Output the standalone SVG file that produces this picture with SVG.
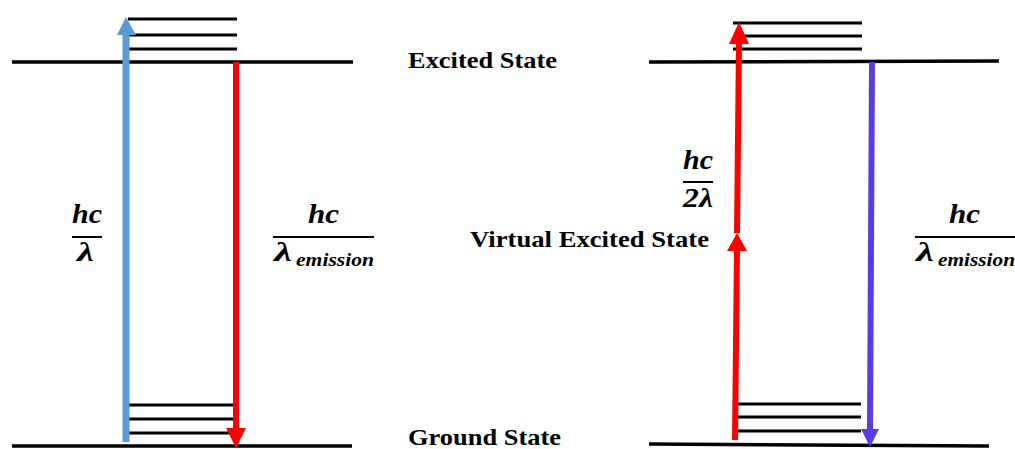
<svg xmlns="http://www.w3.org/2000/svg" width="1015" height="449" viewBox="0 0 1015 449">
<style>
.lvl{stroke:#000;stroke-width:3.5;fill:none}
.sub{stroke:#000;stroke-width:3;fill:none}
.lbl{font-family:"Liberation Serif","Times New Roman",Tinos,serif;font-weight:bold;font-size:23px;fill:#000}
.m{font-family:"Liberation Serif","Times New Roman",Tinos,serif;font-weight:bold;font-style:italic;font-size:27px;fill:#000}
.ms{font-family:"Liberation Serif","Times New Roman",Tinos,serif;font-weight:bold;font-style:italic;font-size:18px;fill:#000}
.bar{stroke:#000;stroke-width:2}
</style>
<rect width="1015" height="449" fill="#fff"/>
<g id="left-levels">
<line class="lvl" x1="12" y1="62" x2="353" y2="62"/>
<line class="lvl" x1="12" y1="446" x2="352" y2="446"/>
<line class="sub" x1="128" y1="19" x2="237" y2="19"/>
<line class="sub" x1="128" y1="35" x2="237" y2="35"/>
<line class="sub" x1="128" y1="49" x2="237" y2="49"/>
<line class="sub" x1="128" y1="405" x2="233" y2="405"/>
<line class="sub" x1="128" y1="419" x2="233" y2="419"/>
<line class="sub" x1="128" y1="433" x2="233" y2="433"/>
</g>
<g id="right-levels">
<line class="lvl" x1="649" y1="62" x2="999" y2="61"/>
<line class="lvl" x1="649" y1="444" x2="989" y2="446"/>
<line class="sub" x1="733" y1="23" x2="862" y2="23"/>
<line class="sub" x1="738" y1="36" x2="862" y2="36"/>
<line class="sub" x1="733" y1="49" x2="862" y2="49"/>
<line class="sub" x1="733" y1="404" x2="861" y2="404"/>
<line class="sub" x1="733" y1="417" x2="861" y2="417"/>
<line class="sub" x1="733" y1="431" x2="861" y2="431"/>
</g>
<g id="connectors">
<line x1="126" y1="442" x2="126" y2="34" stroke="#5B9BD5" stroke-width="7"/>
<polygon points="126,17 117,35 136,35" fill="#5B9BD5"/>
<line x1="236" y1="62" x2="236" y2="430" stroke="#FF0000" stroke-width="6"/>
<polygon points="236,448 226,428 246,428" fill="#FF0000"/>
<line x1="735" y1="440" x2="737" y2="249" stroke="#FF0000" stroke-width="6"/>
<polygon points="737,233 727,251 747,251" fill="#FF0000"/>
<line x1="737" y1="233" x2="739" y2="42" stroke="#FF0000" stroke-width="6"/>
<polygon points="739,22 729,44 749,44" fill="#FF0000"/>
<line x1="872" y1="62" x2="870" y2="431" stroke="#5A3CE6" stroke-width="6"/>
<polygon points="870,447 861,429 879,429" fill="#5A3CE6"/>
</g>
<g id="label-excited">
<text class="lbl" x="408" y="68" textLength="149" lengthAdjust="spacingAndGlyphs">Excited State</text>
</g>
<g id="label-ground">
<text class="lbl" x="408" y="445" textLength="153" lengthAdjust="spacingAndGlyphs">Ground State</text>
</g>
<g id="label-virtual">
<text class="lbl" x="470" y="247" textLength="239" lengthAdjust="spacingAndGlyphs">Virtual Excited State</text>
</g>
<g id="frac-left">
<text class="m" x="72" y="223" textLength="30" lengthAdjust="spacingAndGlyphs">hc</text>
<line class="bar" x1="72" y1="237" x2="102" y2="237"/>
<text class="m" x="77" y="261" textLength="17" lengthAdjust="spacingAndGlyphs">λ</text>
</g>
<g id="frac-left-emission">
<text class="m" x="308" y="223" textLength="31" lengthAdjust="spacingAndGlyphs">hc</text>
<line class="bar" x1="273" y1="237" x2="374" y2="237"/>
<text class="m" x="274" y="261" textLength="18" lengthAdjust="spacingAndGlyphs">λ</text>
<text class="ms" x="296" y="266" textLength="78" lengthAdjust="spacingAndGlyphs">emission</text>
</g>
<g id="frac-2lambda">
<text class="m" x="683" y="169" textLength="30" lengthAdjust="spacingAndGlyphs">hc</text>
<line class="bar" x1="683" y1="182" x2="713" y2="182"/>
<text class="m" x="683" y="207" textLength="30" lengthAdjust="spacingAndGlyphs">2λ</text>
</g>
<g id="frac-right-emission">
<text class="m" x="949" y="223" textLength="31" lengthAdjust="spacingAndGlyphs">hc</text>
<line class="bar" x1="915" y1="237" x2="1015" y2="237"/>
<text class="m" x="916" y="261" textLength="18" lengthAdjust="spacingAndGlyphs">λ</text>
<text class="ms" x="938" y="266" textLength="77" lengthAdjust="spacingAndGlyphs">emission</text>
</g>
</svg>
